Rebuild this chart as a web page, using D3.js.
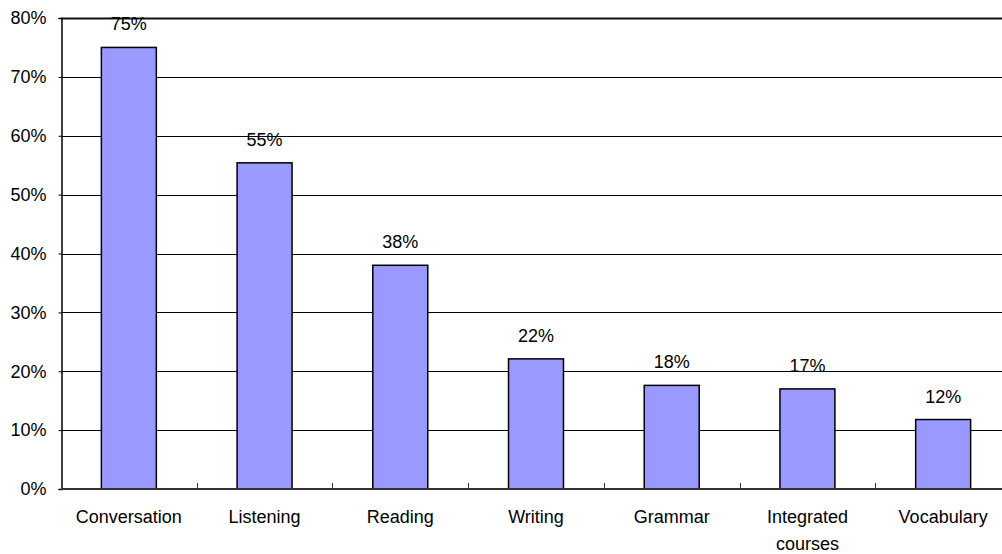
<!DOCTYPE html>
<html>
<head>
<meta charset="utf-8">
<script src="https://cdn.jsdelivr.net/npm/d3@7"></script>
<style>
  html, body { margin: 0; padding: 0; background: #fff; }
  svg { display: block; font-family: "Liberation Sans", Arial, sans-serif; }
</style>
</head>
<body>
<svg id="chart" width="1002" height="554"></svg>
<script>
// Share of respondents naming each course type
const categories = ["Conversation", "Listening", "Reading", "Writing", "Grammar", "Integrated courses", "Vocabulary"];
const shares = [0.75, 0.554, 0.38, 0.221, 0.176, 0.17, 0.118];
const yTicks = [0, 0.1, 0.2, 0.3, 0.4, 0.5, 0.6, 0.7, 0.8];

const svg = d3.select("#chart");
const plotLeft = 61, plotTop = 18, plotBottom = 489, plotRight = 1011;

const x = d3.scaleBand().domain(categories).range([plotLeft, plotRight]).padding(0);
const y = d3.scaleLinear().domain([0, 0.8]).range([plotBottom, plotTop]);
const pct = d3.format(".0%");
const barW = x.bandwidth() * 0.405;

// horizontal gridlines
svg.append("g")
  .selectAll("line")
  .data(yTicks.filter(d => d > 0))
  .join("line")
  .attr("x1", plotLeft).attr("x2", 1002)
  .attr("y1", d => Math.round(y(d)) + 0.5).attr("y2", d => Math.round(y(d)) + 0.5)
  .attr("stroke", d => d === 0.8 ? "#111" : "#000")
  .attr("stroke-width", d => d === 0.8 ? 2 : 1);

// value axis
const yAxis = svg.append("g")
  .attr("transform", `translate(${plotLeft + 0.5},0)`)
  .call(d3.axisLeft(y).tickValues(yTicks).tickFormat(pct).tickSize(3).tickPadding(12));
yAxis.select(".domain").attr("stroke", "#000").attr("stroke-width", 1.5);
yAxis.selectAll(".tick line").attr("stroke", "#000");
yAxis.selectAll(".tick text").attr("font-size", 18).attr("fill", "#000")
  .attr("font-family", "Liberation Sans, Arial, sans-serif");

// bars
svg.append("g")
  .selectAll("rect")
  .data(categories)
  .join("rect")
  .attr("x", (d) => x(d) + (x.bandwidth() - barW) / 2)
  .attr("width", barW)
  .attr("y", (d, i) => y(shares[i]))
  .attr("height", (d, i) => plotBottom - y(shares[i]))
  .attr("fill", "#9999FF")
  .attr("stroke", "#000")
  .attr("stroke-width", 1.5);

// value labels above bars
svg.append("g")
  .selectAll("text")
  .data(categories)
  .join("text")
  .attr("x", d => x(d) + x.bandwidth() / 2)
  .attr("y", (d, i) => y(shares[i]) - 17)
  .attr("text-anchor", "middle")
  .attr("font-size", 18)
  .attr("fill", "#000")
  .text((d, i) => pct(shares[i]));

// category axis
const xAxis = svg.append("g").attr("transform", `translate(0,${plotBottom})`);
xAxis.append("line")
  .attr("x1", plotLeft).attr("x2", 1002)
  .attr("y1", 0).attr("y2", 0)
  .attr("stroke", "#333").attr("stroke-width", 2);
xAxis.selectAll("line.tick")
  .data(categories.slice(1))
  .join("line")
  .attr("class", "tick")
  .attr("x1", d => Math.round(x(d)) + 0.5).attr("x2", d => Math.round(x(d)) + 0.5)
  .attr("y1", 0).attr("y2", -6)
  .attr("stroke", "#333").attr("stroke-width", 1);

const labels = xAxis.selectAll("text")
  .data(categories)
  .join("text")
  .attr("text-anchor", "middle")
  .attr("font-size", 18)
  .attr("fill", "#000")
  .attr("y", 34);

// wrap labels that are wider than the band
labels.each(function(d) {
  const t = d3.select(this);
  const cx = x(d) + x.bandwidth() / 2;
  t.text(d);
  if (this.getComputedTextLength() > x.bandwidth() * 0.95) {
    t.text(null);
    d.split(" ").forEach((w, i) => {
      t.append("tspan").attr("x", cx).attr("dy", i === 0 ? 0 : 27).text(w);
    });
  } else {
    t.attr("x", cx);
  }
});
</script>
</body>
</html>
